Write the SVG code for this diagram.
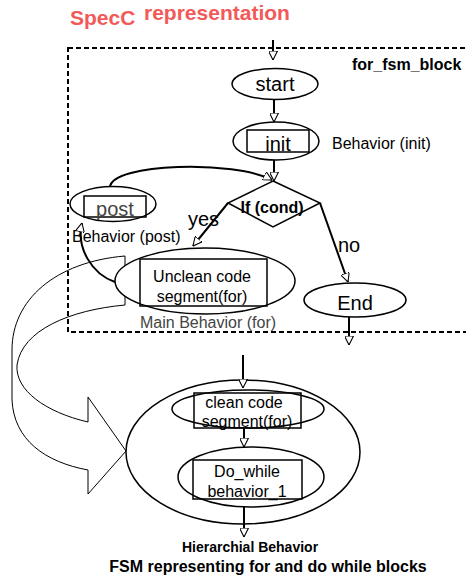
<svg xmlns="http://www.w3.org/2000/svg" width="466" height="579" viewBox="0 0 466 579">
<defs>
<marker id="ah" viewBox="0 0 10 10" refX="10" refY="5" markerWidth="9" markerHeight="9" markerUnits="userSpaceOnUse" orient="auto">
<path d="M0,0 L10,5 L0,10 Z" fill="#fff" stroke="#000" stroke-width="1.2"/>
</marker>
</defs>
<style>
text{font-family:"Liberation Sans",Arial,sans-serif;fill:#000}
.node{fill:#fff;stroke:#000;stroke-width:1.5}
.box{fill:none;stroke:#000;stroke-width:1.5}
.lbl{font-size:20px;text-anchor:middle}
.sm{font-size:16px;text-anchor:middle}
.b{font-weight:bold}
.gray{fill:#444}
.conn{fill:none;stroke:#000;stroke-width:2;marker-end:url(#ah)}
.title{font-size:21px;font-weight:bold;fill:#f25a5a}
</style>
<rect width="466" height="579" fill="#fff"/>

<text class="title" x="70" y="25">SpecC</text>
<text class="title" x="144" y="20">representation</text>

<g id="big-arrow">
<path d="M125,256 L125,305 C 70,310 22,330 17,365 C 15,390 45,412 88,422 L88,397 L126,451 L88,494 L88,470 C 45,462 14,440 12,400 L12,350 C 12,300 55,262 125,256 Z" fill="#fff" stroke="#000" stroke-width="1"/>
</g>

<g id="for_fsm_block">
<rect x="68" y="48" width="410" height="284" fill="none" stroke="#000" stroke-width="2" stroke-dasharray="5,3"/>
<text class="b" x="352" y="70" font-size="16">for_fsm_block</text>
</g>

<g id="start">
<ellipse class="node" cx="275" cy="84" rx="43" ry="15.5"/>
<text class="lbl" x="275" y="91">start</text>
</g>

<g id="init">
<ellipse class="node" cx="276" cy="141" rx="43" ry="19"/>
<rect class="box" x="247" y="130" width="62" height="22"/>
<text class="lbl" x="278" y="151">init</text>
<text x="332" y="149" font-size="16">Behavior (init)</text>
</g>

<g id="cond">
<polygon class="node" points="273,181 320,203 273,227 228,203"/>
<text class="b" x="272" y="213" font-size="16" text-anchor="middle">If (cond)</text>
</g>

<g id="post">
<ellipse class="node" cx="113" cy="204" rx="43" ry="17.5"/>
<rect class="box" x="84" y="196" width="62" height="21"/>
<text class="lbl gray" x="115" y="216">post</text>
<text x="72" y="242" font-size="16">Behavior (post)</text>
</g>

<g id="unclean">
<ellipse class="node" cx="205" cy="281" rx="90" ry="33"/>
<rect class="box" x="140" y="259" width="127" height="47"/>
<text class="sm" x="202" y="282">Unclean code</text>
<text class="sm" x="202" y="302">segment(for)</text>
<text class="gray" x="140" y="328" font-size="16">Main Behavior (for)</text>
</g>

<g id="end">
<ellipse class="node" cx="355" cy="300" rx="51" ry="17"/>
<text class="lbl" x="355" y="310">End</text>
</g>

<g id="hierarchical">
<ellipse class="node" cx="243" cy="452" rx="117" ry="72"/>
<text class="b" x="250" y="552" font-size="14" text-anchor="middle">Hierarchial Behavior</text>
</g>

<g id="clean">
<ellipse class="node" cx="248" cy="409" rx="76" ry="19"/>
<rect class="box" x="194" y="393" width="107" height="35"/>
<text class="sm" x="244" y="408">clean code</text>
<text class="sm" x="247" y="427">segment(for)</text>
</g>

<g id="dowhile">
<ellipse class="node" cx="251" cy="477" rx="73" ry="30"/>
<rect class="box" x="193" y="460" width="109" height="39"/>
<text class="sm" x="247" y="477">Do_while</text>
<text class="sm" x="247" y="497">behavior_1</text>
</g>

<text class="b" x="268" y="572" font-size="16" text-anchor="middle">FSM representing for and do while blocks</text>

<g id="connectors">
<path class="conn" d="M273,40 L273,60"/>
<path class="conn" d="M274,99 L274,122"/>
<path class="conn" d="M274,160 L274,181"/>
<path class="conn" d="M110,187 C 112,163 235,160 272,180"/>
<path class="conn" d="M228,203 L193,246"/>
<path class="conn" d="M320,203 L348,282"/>
<path class="conn" d="M349,317 L349,345"/>
<path class="conn" d="M115,282 C 92,274 76,248 82,223"/>
<path class="conn" d="M243,355 L243,388"/>
<path class="conn" d="M244,428 L244,447"/>
<path class="conn" d="M244,507 L244,537"/>
<text x="188" y="226" font-size="20">yes</text>
<text x="338" y="252" font-size="20">no</text>
</g>
</svg>
